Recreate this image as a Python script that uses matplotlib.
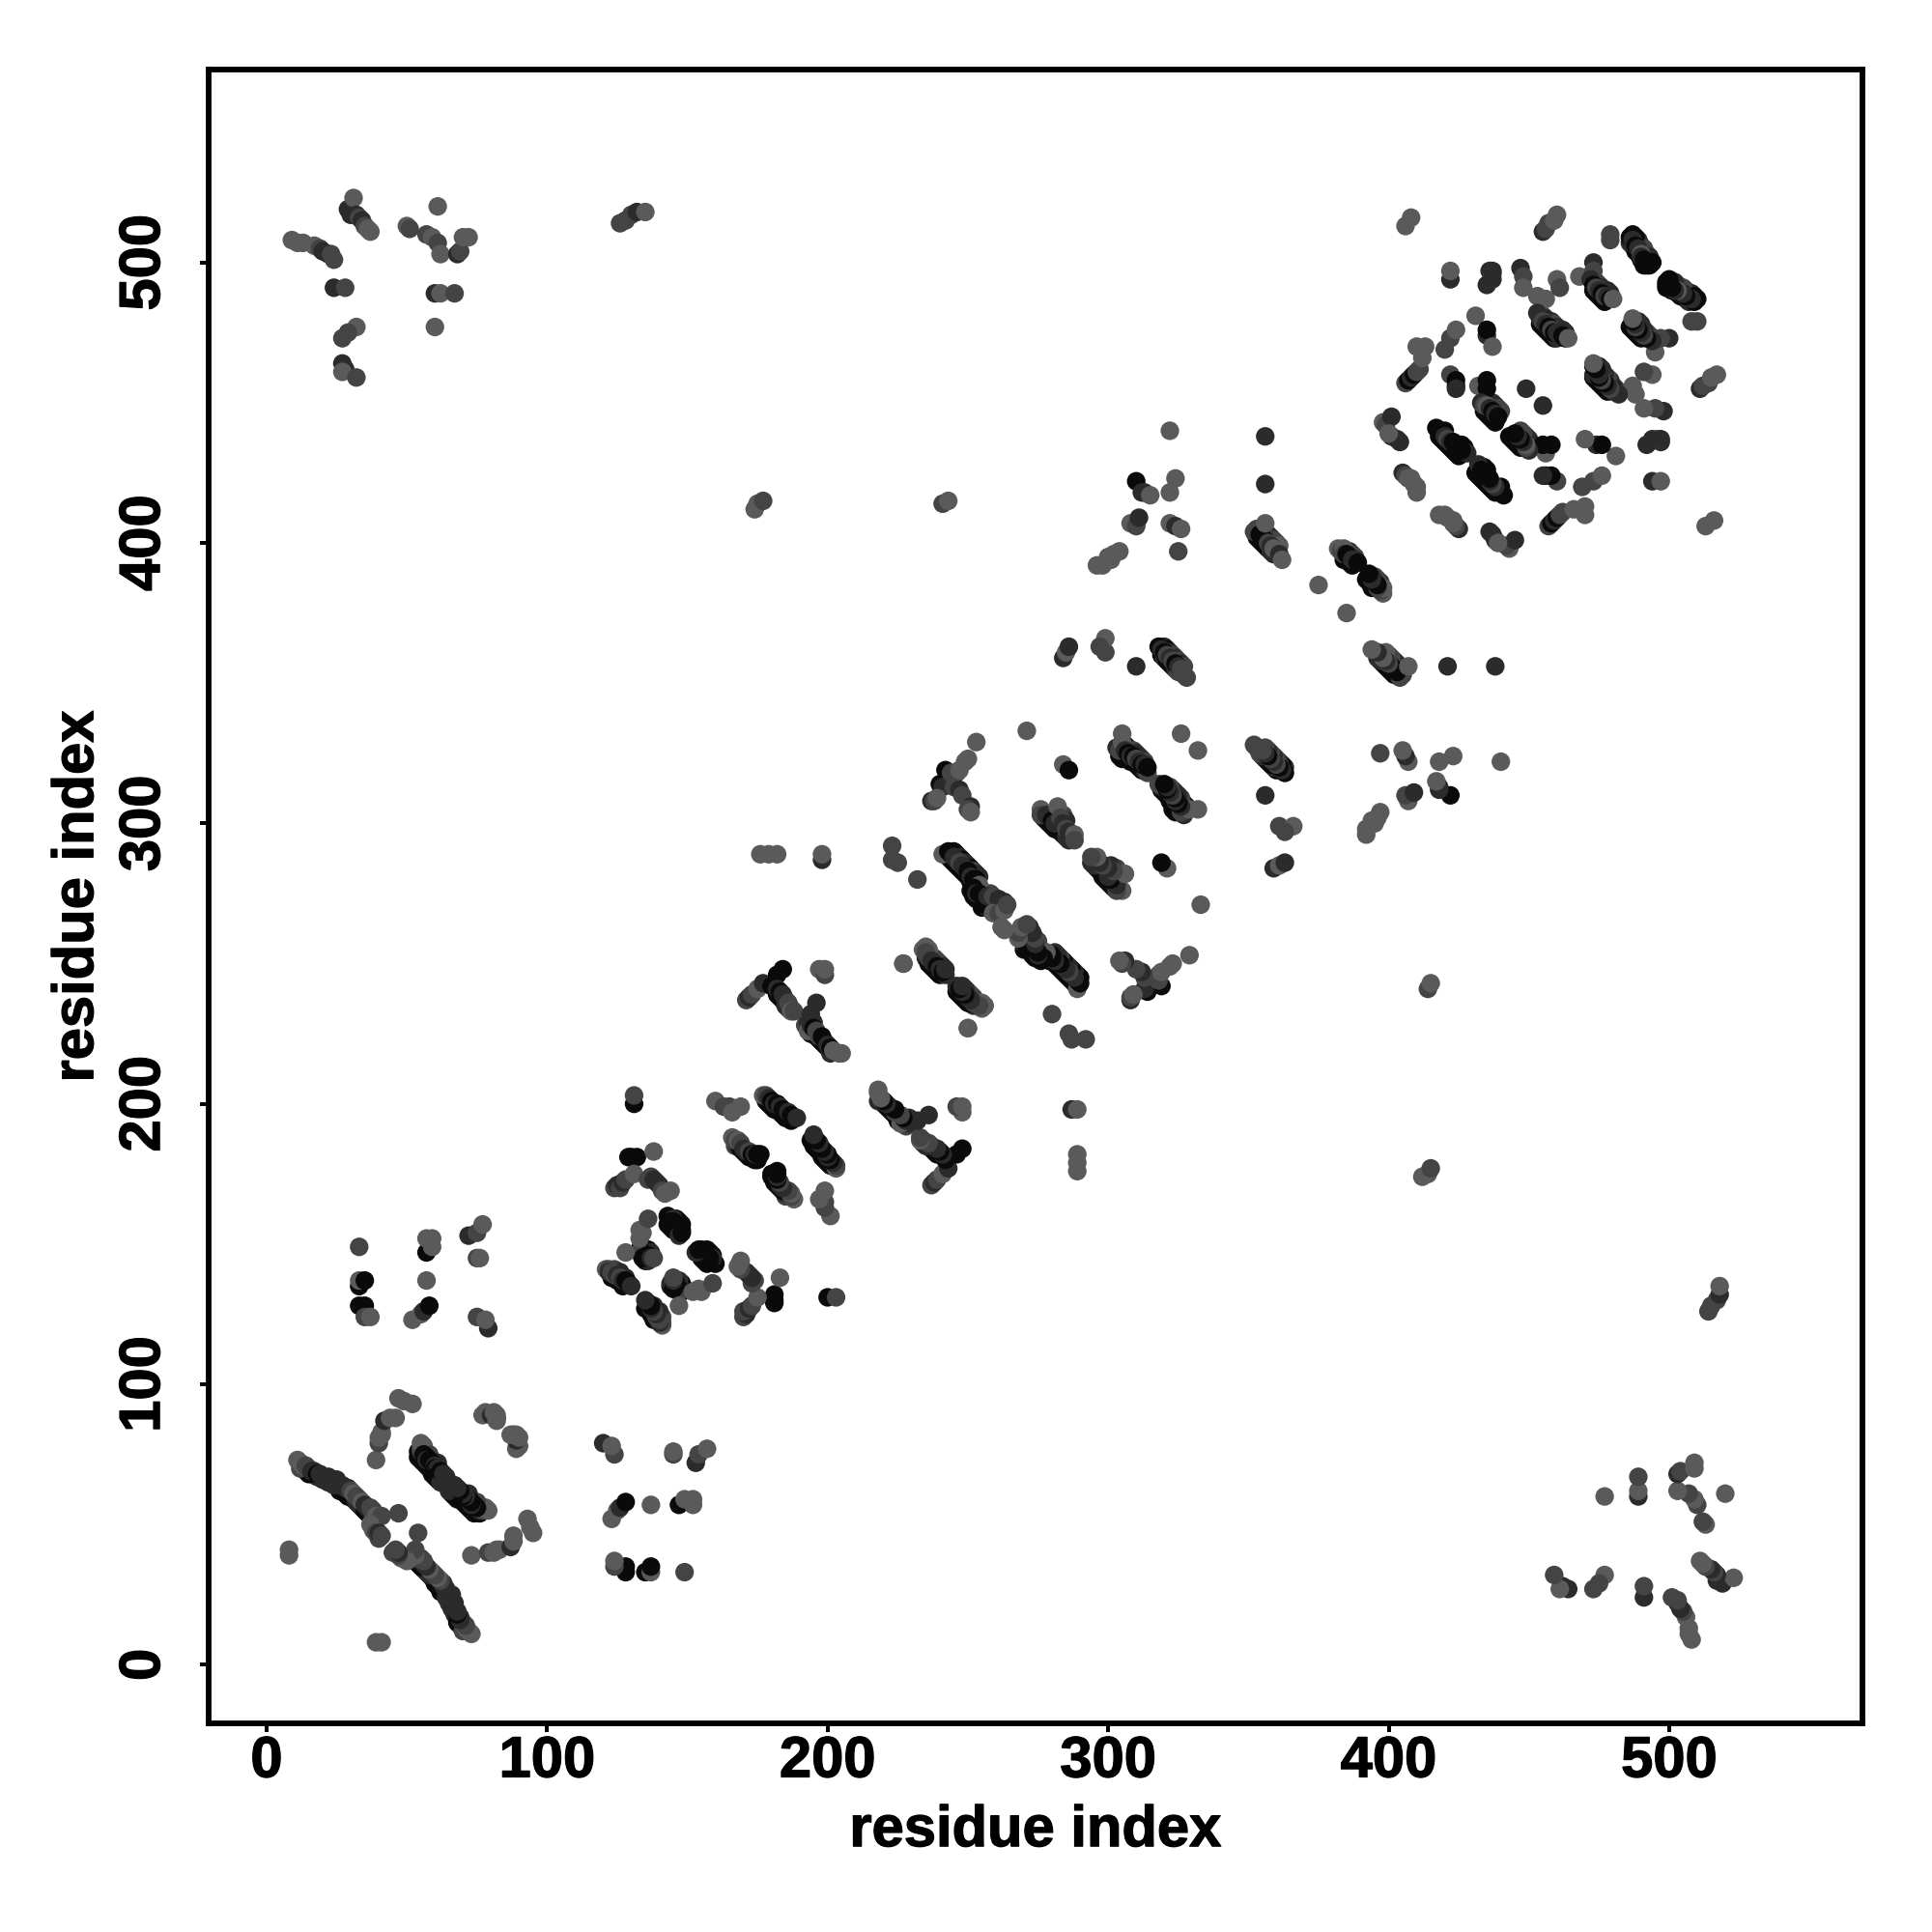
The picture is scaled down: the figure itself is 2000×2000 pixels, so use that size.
import matplotlib
matplotlib.use("Agg")
import matplotlib.pyplot as plt
import matplotlib.patheffects as pe

# Contacts above the diagonal, (residue i, residue j, tone); tone 0 is darkest, 3 lightest.
n_term_diagonal = [(11,73,3),(12,72,3),(13,71,3),(14,71,2),(15,70,2),(16,69,1),(17,69,1),(18,68,0),(19,68,1),(20,67,1),
    (22,67,1),(24,66,1),(24,64,1),(25,65,1),(26,64,1),(27,64,1),(28,63,1),(29,63,1),(30,62,2),(31,61,3),(32,60,2),
    (33,59,2),(34,58,3),(35,57,1),(36,56,1),(37,56,2),(38,55,2),(38,53,2),(39,53,3),(41,53,2),(37,50,3),(38,48,3),
    (39,47,2),(40,47,1),(41,46,2),(47,54,2),(8,39,3),(8,41,3)]
n_term_side = [(39,73,3),(40,79,2),(40,81,3),(41,82,3),(41,83,3),(42,87,1),(44,88,3),(46,88,3),(47,95,3),(49,94,3),(52,93,3)]
n_term_second = [(55,76,1),(55,77,2),(55,79,3),(56,75,0),(57,74,0),(57,73,1),(58,73,0),(59,72,0),(60,71,1),(60,70,0),
    (61,70,1),(60,67,0),(61,66,0),(62,65,1),(62,69,0),(63,68,1),(64,67,1)]
n_term_corner = [(82,88,0),(77,89,3),(78,90,3),(80,89,1),(81,90,3),(82,89,3),(82,87,3)]
block_30_80 = [(33,149,2),(33,135,0),(33,137,3),(35,137,0),(33,128,0),(35,128,0),(35,124,2),(37,124,3),
    (57,147,0),(59,149,3),(57,152,3),(59,152,3),(57,137,3),(52,123,3),(55,125,3),(56,126,1),(58,128,0),
    (72,153,1),(75,154,2),(77,157,3),(75,145,2),(76,145,3),(75,124,2),(79,120,1),(78,123,3)]
block_120_160 = [(121,141,3),(122,141,2),(122,140,1),(123,140,2),(124,139,2),(125,139,1),(126,138,2),(127,137,1),(128,137,0),
    (129,136,0),(130,135,1),(143,160,0),(144,159,0),(145,159,1),(144,158,0),(145,158,0),(146,157,0),(147,156,0),
    (147,155,0),(148,155,0),(147,153,1),(148,154,0),(133,148,0),(134,147,0),(133,147,2),(135,146,1),(136,146,0),(134,145,0),
    (137,145,1),(138,145,2),(133,152,3),(134,154,3),(133,155,3),(136,159,2),(128,147,3)]
block_124_145 = [(130,181,0),(132,181,0),(129,181,0),(138,183,3),(124,170,2),(125,171,1),(126,170,2),(127,172,1),(128,173,2),
    (131,175,3),(136,173,2),(137,174,2),(138,173,1),(139,172,1),(140,171,1),(141,169,2),(142,168,3),(144,169,3),
    (131,200,0),(131,203,2)]
strand_165_176 = [(166,188,3),(167,187,2),(168,187,3),(169,186,2),(170,184,1),(171,183,1),(172,183,2),(173,182,0),(174,182,1),
    (175,182,0),(176,182,0)]
strand_160_170 = [(160,201,3),(163,199,2),(165,199,2),(166,197,3),(169,199,3)]
strand_177_189 = [(177,203,3),(178,203,2),(179,202,1),(180,201,0),(181,200,1),(182,200,0),(183,199,1),(184,198,0),(185,197,0),
    (186,197,1),(187,196,0),(188,195,0),(189,195,1)]
block_171_205 = [(171,237,2),(172,238,1),(173,239,2),(175,241,3),(177,243,1),(180,242,0),(182,246,0),(184,248,0),(182,241,1),
    (183,240,0),(184,239,1),(185,237,1),(186,236,2),(187,233,3),(188,233,2),(193,226,3),(194,228,1),(194,232,1),(196,236,1),
    (195,227,0),(196,226,2),(197,224,2),(198,224,0),(199,222,0),(200,221,1),(201,220,0),(202,219,3),(204,218,3),(205,218,3),
    (197,248,3),(199,246,2),(199,248,3)]
strand_227_255 = [(227,250,3),(234,255,3),(236,255,3),(235,254,2),(236,252,2),(237,251,1),(238,250,1),(239,249,0),(240,248,1),
    (241,247,0),(242,248,1),(250,227,3)]
block_220_232 = [(223,292,2),(223,287,2),(225,286,2),(232,280,2),(176,289,3),(179,289,3),(182,289,3),(198,287,1),(198,289,3)]
central_strand = [(241,289,3),(243,290,0),(244,289,0),(245,288,1),(246,287,1),(247,286,2),(248,285,1),(249,284,1),(250,283,0),
    (251,281,1),(252,280,0),(253,280,0),(254,278,3),(252,277,0),(253,275,1),(254,275,0),(255,274,0),(257,274,1),
    (259,274,2),(261,273,1),(263,272,1),(259,268,3),(261,268,2),(263,269,3),(264,271,2),(262,263,3)]
block_237_253 = [(242,319,0),(240,314,0),(241,313,1),(244,318,2),(245,313,2),(246,318,2),(247,319,3),(249,322,3),(250,323,3),(253,329,3),
    (237,308,1),(238,308,2),(239,309,3),(247,312,1),(248,310,2),(251,306,1),(250,305,2),(251,304,3),(271,333,3)]
block_276_288 = [(284,321,3),(286,319,0),(276,305,3),(276,303,2),(278,303,1),(279,302,1),(280,301,0),(282,306,3),(281,300,1),
    (283,302,2),(284,300,1),(285,298,2),(286,297,1),(287,296,1),(288,296,3),(288,294,2)]
strand_303_315 = [(303,327,1),(304,326,2),(305,329,3),(305,332,3),(306,326,1),(307,325,0),(308,324,1),(309,324,0),(310,323,2),
    (311,322,1),(312,321,0),(313,321,1),(314,320,0),(326,332,3)]
strand_318_328 = [(318,363,0),(319,362,1),(320,361,0),(321,360,2),(322,359,1),(323,358,2),(324,357,0),(325,356,1),(326,355,2),
    (327,353,2),(328,352,2),(310,356,1)]
block_284_300 = [(284,359,1),(285,361,3),(286,363,1),(299,361,2),(299,366,3),(297,363,2),(296,392,3),(298,392,3),(300,395,3),
    (301,394,3),(302,396,3),(304,397,3)]
block_305_326 = [(308,407,3),(310,406,2),(311,409,1),(310,422,0),(312,418,1),(313,418,1),(315,417,3),(322,418,3),(324,423,3),
    (322,440,3),(322,407,3),(324,406,1),(326,405,3),(325,397,2)]
block_352_366 = [(356,438,1),(356,421,1),(352,404,2),(353,405,2),(354,403,0),(355,402,0),(356,401,0),(357,400,2),(358,399,1),
    (359,398,3),(361,396,1),(362,394,3),(356,407,3),(375,385,3)]
strand_382_390 = [(382,398,3),(383,397,2),(384,398,3),(384,396,2),(385,396,0),(386,395,0),(387,394,1),(388,394,1),(389,393,0)]
cluster_top = [(405,425,1),(406,424,2),(407,423,3),(408,423,3),(409,421,3),(410,420,3),(410,418,3),
    (417,441,0),(418,440,0),(419,438,0),(420,438,1),(421,437,2),(422,436,1),(423,436,0),(424,434,0),(425,433,0),(426,433,0),
    (398,443,3),(399,442,2),(401,445,1),(401,438,1),(403,437,1),(404,436,1),(400,439,3)]
cluster_upper_left = [(406,457,2),(407,458,0),(408,459,1),(409,460,0),(410,461,2),(411,462,2),(412,466,3),(410,470,3),(413,470,3),
    (420,469,2),(422,473,2),(424,476,3),(422,460,2),(424,458,0),(424,456,0),(424,455,1),(422,494,1),(422,497,3),
    (431,481,3),(435,474,1),(435,476,0),(437,470,3),(432,456,3),(435,458,0),(435,455,0),
    (433,450,1),(434,449,2),(435,449,3),(436,448,1),(437,447,0),(438,446,1),(439,445,0),(449,455,1),
    (436,497,1),(437,496,2),(437,494,1),(435,492,1),(447,498,1),(448,495,2),(448,491,3),(453,488,3),(456,487,3),
    (460,494,3),(461,491,2),(437,497,1)]
cluster_strand_453 = [(453,482,1),(454,480,1),(455,479,2),(456,478,1),(457,477,0),(458,476,2),(459,475,0),(460,475,1),(461,474,1),
    (462,474,0),(463,473,0),(464,473,3)]
cluster_upper_right = [(468,495,3),(473,500,1),(473,497,2),(472,494,1),(473,492,0),(474,491,2),(475,490,1),(476,489,0),(477,488,2),
    (478,488,1),(479,487,0),(480,487,3),(479,510,2),(479,508,2),(486,507,1),(486,509,0),(487,510,0),(488,509,0),
    (487,508,1),(488,506,0),(489,505,1),(490,503,3),(490,502,1),(491,501,0),(492,500,0),(492,499,0),(493,499,0),
    (455,511,1),(456,512,2),(457,514,2),(459,515,3),(460,517,3)]
far_contacts = [(9,508,3),(11,507,3),(13,507,3),(17,506,3),(19,505,2),(20,504,1),(22,503,1),(23,503,2),(24,501,2),
    (29,519,1),(30,517,1),(31,523,3),(32,517,1),(33,516,2),(34,515,1),(35,513,2),(36,512,3),(37,511,3),
    (50,513,3),(51,512,2),(57,510,2),(59,509,3),(61,507,2),(62,503,3),(68,503,1),(69,504,2),(70,509,3),(72,509,3),(61,520,3),
    (24,491,1),(28,491,2),(60,489,1),(62,489,3),(67,489,2),(60,477,3),(32,477,3),(29,475,2),(27,473,2),
    (27,464,1),(28,462,1),(27,461,3),(32,459,2),(126,514,2),(128,515,2),(130,517,2),(132,518,1),(135,518,3),
    (174,412,3),(175,414,3),(177,415,2),(241,414,2),(243,415,3),(408,516,3),(406,513,3)]
# Neighbouring contacts that thicken the dense strands; drawn first so the strands lie over them.
flank_n_term = [(16,68,0),(18,67,1),(20,66,1),(22,65,1),(26,62,0),(27,62,0),(28,61,0),(29,60,0),(31,59,0),(32,58,1),(33,57,1),
    (34,56,1),(35,55,0),(36,54,0),(25,66,1),(14,69,1),(15,68,0),(12,70,2),(38,51,2),(40,45,2),
    (54,76,0),(54,74,0),(55,73,0),(56,72,0),(57,71,0),(58,70,0),(59,68,0),(60,68,0),(56,78,3),(58,75,2),(61,72,1)]
flank_120_190 = [(123,138,0),(125,137,0),(127,135,0),(124,141,2),(126,140,1),(128,138,1),(143,157,0),(144,156,0),
    (145,155,0),(146,159,0),(147,158,0),(148,157,0),(134,149,0),(136,148,0),(137,147,1),
    (135,144,0),(136,144,1),(178,201,0),(179,200,0),(180,199,0),(181,198,0),(182,198,0),(183,197,0),(184,196,0),(185,195,0),
    (186,195,0),(187,194,0),(167,185,2),(168,185,1),(169,184,0),(170,183,0),(171,182,0),(172,181,0),(173,181,0),(174,180,0),(175,180,0)]
flank_180_264 = [(182,239,0),(183,238,0),(184,237,0),(185,235,1),(186,234,1),(187,234,2),(194,225,0),(195,225,0),(196,224,0),
    (197,223,0),(198,222,0),(199,221,0),(200,220,0),(201,218,1),(192,228,2),(193,229,1),(195,229,1),(235,252,1),(236,250,0),
    (237,249,0),(238,248,0),(239,247,0),(240,246,0),(235,256,3),(238,252,2),(239,251,2),(240,250,2),(241,249,1),(242,246,1),
    (243,288,0),(244,287,0),(245,286,0),(246,285,0),(247,284,0),(248,283,0),(249,282,0),(250,281,0),(251,279,0),(252,278,0),
    (251,276,0),(252,274,0),(253,273,0),(254,273,0),(255,272,0),(256,272,1),(258,271,2),(245,290,0),(246,289,0),(247,288,1),
    (248,287,0),(249,286,1),(250,285,1),(251,284,0),(252,283,2),(253,282,1),(254,281,1),(255,276,1),(256,275,0),(258,275,2),
    (260,272,1),(262,271,1),(260,270,3),(255,270,0),(257,270,1),(256,271,0)]
flank_276_362 = [(277,302,0),(278,301,0),(279,300,0),(280,299,0),(281,298,0),(282,298,0),(283,297,0),(284,296,0),(285,295,1),
    (286,294,1),(284,303,2),(285,301,1),(304,324,0),(305,323,0),(306,324,0),(307,323,0),(308,322,0),(309,322,0),(310,321,0),
    (311,320,0),(312,319,0),(313,319,1),(305,328,1),(306,328,0),(307,327,0),(308,326,1),(309,326,2),(310,325,1),(311,324,1),
    (312,323,1),(313,322,2),(314,318,2),(319,360,0),(320,359,1),(321,358,0),(322,357,0),(323,356,0),(324,355,1),(325,354,2),
    (320,363,1),(321,362,0),(322,361,1),(323,360,2),(324,359,1),(325,358,2),(326,357,1),(327,356,2),(353,402,0),(354,401,0),
    (355,400,0),(356,399,0),(357,398,0),(358,397,1),(359,396,1),(355,405,0),(356,404,0),(357,403,1),(358,402,1),(359,401,2),
    (360,400,2),(361,399,3)]
flank_382_494 = [(384,394,0),(385,394,0),(386,393,0),(387,392,0),(386,397,1),(387,396,2),(388,395,2),(418,438,0),(419,437,0),
    (420,436,0),(421,435,0),(422,434,0),(423,433,0),(424,432,0),(425,431,0),(420,440,0),(426,435,0),(427,434,0),(428,432,1),
    (434,447,0),(435,446,0),(436,445,0),(437,444,0),(438,443,0),(435,451,2),
    (437,450,1),(438,449,1),(439,448,2),(440,447,2),(454,478,0),(455,477,0),(456,476,0),(457,475,0),(458,474,0),(459,473,0),
    (460,473,1),(455,481,2),(456,480,1),(457,479,0),(458,479,1),(459,478,2),(460,477,1),(461,476,2),(462,476,1),(463,475,1),
    (473,490,0),(474,489,0),(475,488,0),(476,487,0),(477,486,0),(474,493,1),(475,492,2),(476,491,1),(477,490,2),(478,490,1),
    (479,489,1),(487,506,0),(488,504,0),(489,503,0),(490,501,0),(491,499,0),(489,508,1),(490,506,1),(491,505,2),(492,503,2),
    (493,502,1),(494,500,0)]
contact_groups = [flank_n_term, flank_120_190, flank_180_264, flank_276_362, flank_382_494,
    n_term_diagonal, n_term_side, n_term_second, n_term_corner, block_30_80, block_120_160, block_124_145,
    strand_165_176, strand_160_170, strand_177_189, block_171_205, strand_227_255, block_220_232, central_strand,
    block_237_253, block_276_288, strand_303_315, strand_318_328, block_284_300, block_305_326, block_352_366,
    strand_382_390, cluster_top, cluster_upper_left, cluster_strand_453, cluster_upper_right, far_contacts]
tone_colors = ["#0a0a0a", "#2b2b2b", "#444444", "#5a5a5a"]
x_ticks = [0, 100, 200, 300, 400, 500]
y_ticks = [0, 100, 200, 300, 400, 500]
axis_title = "residue index"

plt.rcParams["font.family"] = ["Liberation Sans", "DejaVu Sans"]
plt.rcParams["font.weight"] = "bold"
fig = plt.figure(figsize=(10, 10), dpi=200)
ax = fig.add_axes([216/2000, 1 - 1783.7/2000, (1928-216)/2000, (1783.7-72)/2000])

xs, ys, cs = [], [], []
for group in contact_groups:
    for i, j, t in group:
        xs += [i, j]
        ys += [j, i]
        cs += [tone_colors[t], tone_colors[t]]
ax.scatter(xs, ys, s=48, c=cs, linewidths=0, zorder=2)

ax.set_xlim(-20.66, 568.9)
ax.set_ylim(-20.8, 568.8)
ax.set_xticks(x_ticks)
ax.set_yticks(y_ticks)
ax.tick_params(axis="x", length=3.1, width=1.44, labelsize=21.5, pad=1.5)
ax.tick_params(axis="y", length=3.1, width=1.44, labelsize=21.5, pad=10.9)
for lab in ax.get_yticklabels():
    lab.set_rotation(90)
    lab.set_va("center")
ax.set_xlabel(axis_title, fontsize=21.5, fontweight="bold", labelpad=6)
ax.set_ylabel(axis_title, fontsize=21.5, fontweight="bold", labelpad=5)
stroke = [pe.withStroke(linewidth=0.45, foreground="black")]
for t in ax.get_xticklabels() + ax.get_yticklabels() + [ax.xaxis.label, ax.yaxis.label]:
    t.set_path_effects(stroke)
for sp in ax.spines.values():
    sp.set_linewidth(2.1)
fig.savefig("out.png", dpi=200)
